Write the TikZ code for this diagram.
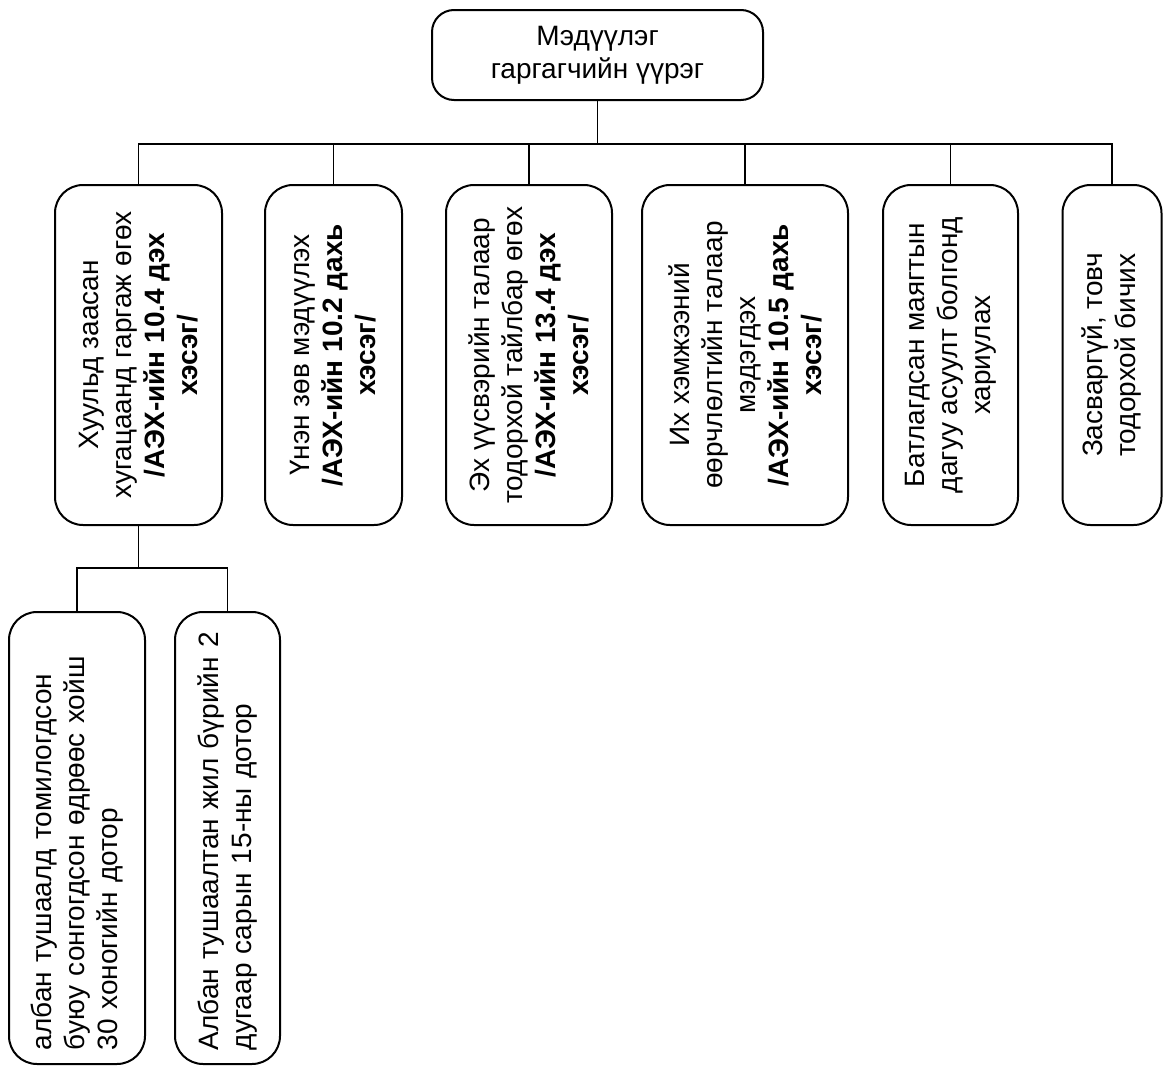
\documentclass[tikz,border=0pt]{standalone}
\usepackage{fontspec}
\setmainfont{Liberation Sans}
\usetikzlibrary{positioning}

\begin{document}
\begin{tikzpicture}[x=0.5pt, y=-0.5pt,
        every node/.style={font=\fontsize{14}{16.5}\selectfont},
        dutybox/.style={draw, line width=1pt, rounded corners=14pt, align=center, inner sep=2pt},
        rolebox/.style={dutybox, rotate=90, minimum width=170pt},
        termbox/.style={dutybox, rotate=90, align=left, text width=212pt, inner xsep=7pt, minimum width=226pt},
        link/.style={line width=0.9pt}]
            \useasboundingbox (0, 0) rectangle (1163, 1066);

            \node[dutybox, rounded corners=11pt, minimum width=165.5pt, minimum height=45pt] (root) at (597.5, 55) {Мэдүүлэг\\гаргагчийн үүрэг};

            \node[rolebox, minimum height=83.5pt] (law) at (138.5, 355) {Хуульд заасан\\хугацаанд гаргаж өгөх\\\textbf{/АЭХ-ийн 10.4 дэх}\\\textbf{хэсэг/}};
            \node[rolebox, minimum height=68.5pt] (truth) at (333.5, 355) {Үнэн зөв мэдүүлэх\\\textbf{/АЭХ-ийн 10.2 дахь}\\\textbf{хэсэг/}};
            \node[rolebox, minimum height=83pt] (source) at (529, 355) {Эх үүсвэрийн талаар\\тодорхой тайлбар өгөх\\\textbf{/АЭХ-ийн 13.4 дэх}\\\textbf{хэсэг/}};
            \node[rolebox, minimum height=103pt] (change) at (745, 355) {Их хэмжээний\\өөрчлөлтийн талаар\\мэдэгдэх\\\textbf{/АЭХ-ийн 10.5 дахь}\\\textbf{хэсэг/}};
            \node[rolebox, minimum height=67.5pt] (form) at (950.5, 355) {Батлагдсан маягтын\\дагуу асуулт болгонд\\хариулах};
            \node[rolebox, minimum height=49.5pt] (clear) at (1112, 355) {Засваргүй, товч\\тодорхой бичих};

            \node[termbox, minimum height=68pt] (appoint) at (77, 838) {албан тушаалд томилогдсон\\буюу сонгогдсон өдрөөс хойш\\30 хоногийн дотор};
            \node[termbox, minimum height=52.5pt] (yearly) at (227.5, 838) {Албан тушаалтан жил бүрийн 2\\дугаар сарын 15-ны дотор};

            \foreach \n in {law, truth, source, change, form, clear}
                \draw[link] (root.south) -- ++(0, 43) -| (\n.east);
            \foreach \n in {appoint, yearly}
                \draw[link] (law.west) -- ++(0, 42) -| (\n.east);
\end{tikzpicture}
\end{document}
